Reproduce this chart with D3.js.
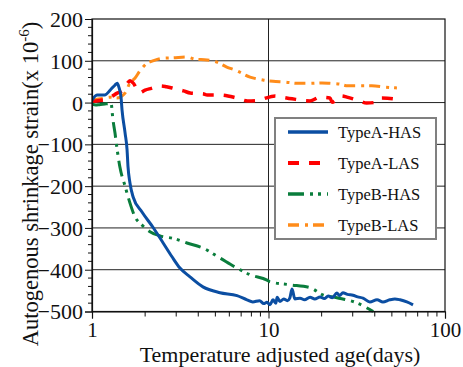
<!DOCTYPE html>
<html>
<head>
<meta charset="utf-8">
<script src="https://cdn.jsdelivr.net/npm/d3@7"></script>
<style>
html,body{margin:0;padding:0;background:#fff;}
svg{display:block;}
text{font-family:"Liberation Serif","Times New Roman",serif;fill:#111;}
</style>
</head>
<body>
<svg id="chart" width="463" height="367"></svg>
<script>
// ---- data ----
const seriesNames = ["TypeA-HAS", "TypeA-LAS", "TypeB-HAS", "TypeB-LAS"];

const typeAHASDays = [1.0, 1.07, 1.18, 1.27, 1.35, 1.39, 1.42, 1.46, 1.48, 1.54, 1.58, 1.60, 1.64, 1.71, 1.92, 2.22, 2.53, 2.84, 3.15, 3.59, 4.25, 5.31, 6.63, 7.55, 8.15, 8.9, 9.4, 9.8, 10.2, 10.6, 11.0, 11.2, 11.6, 12.2, 12.8, 13.2, 13.6, 14.1, 15.1, 16.0, 17.2, 18.3, 19.6, 20.7, 21.8, 23.0, 24.4, 25.3, 26.4, 28.0, 30.1, 32.0, 34.3, 37.5, 41.2, 44.5, 48.6, 52.0, 55.6, 60.8, 65.9];
const typeAHASVals = [6, 18, 18, 30, 42, 46, 37, 13, -18, -73, -113, -154, -192, -226, -262, -299, -336, -369, -396, -417, -441, -455, -462, -472, -477, -474, -481, -478, -484, -472, -480, -466, -476, -470, -474, -468, -446, -470, -468, -472, -466, -470, -465, -469, -463, -467, -456, -462, -455, -459, -461, -465, -468, -477, -472, -477, -472, -470, -472, -477, -484];

const typeALASDays = [1.0, 1.1, 1.2, 1.3, 1.38, 1.5, 1.58, 1.64, 1.7, 1.87, 2.0, 2.17, 2.45, 2.64, 2.95, 3.3, 3.6, 4.25, 4.5, 5.3, 6.6, 7.6, 8.6, 9.2, 10.9, 11.6, 13.6, 17.2, 19.6, 22.3, 22.9, 26.0, 27.8, 32.8, 36.0, 41.2, 43.9, 53.4, 57.1];
const typeALASVals = [3, 5, 8, 15, 22, 30, 45, 52, 48, 24, 30, 34, 40, 38, 33, 28, 23, 21, 18, 18, 11, 4, 5, 8, 16, 14, 9, 4, 13, 11, 1, 16, 13, 4, -1, 1, 11, 8, 1];

const typeBHASDays = [1.0, 1.05, 1.1, 1.15, 1.2, 1.25, 1.28, 1.315, 1.35, 1.386, 1.44, 1.54, 1.64, 1.75, 1.92, 2.13, 2.43, 2.95, 3.45, 4.25, 5.31, 6.63, 7.86, 9.81, 10.2, 13.2, 17.2, 20.3, 24.4, 31.5, 39.2];
const typeBHASVals = [-3, -6, -5, -4, -3, -2, 0, -42, -73, -110, -155, -200, -240, -273, -293, -309, -319, -326, -336, -348, -372, -396, -412, -425, -429, -436, -443, -460, -467, -479, -500];

const typeBLASDays = [1.0, 1.07, 1.15, 1.27, 1.38, 1.54, 1.64, 1.75, 1.87, 2.05, 2.19, 2.49, 2.87, 3.45, 3.83, 4.48, 5.1, 5.8, 6.45, 7.86, 9.3, 10.6, 12.4, 14.7, 17.2, 20.1, 22.3, 25.4, 28.1, 32.8, 38.5, 45.7, 53.4];
const typeBLASVals = [5, 8, 10, 13, 11, 23, 47, 58, 76, 94, 99, 106, 107, 109, 104, 102, 97, 85, 78, 61, 54, 51, 49, 46, 46, 47, 46, 44, 40, 40, 40, 37, 35];

const yTickValues = [200, 100, 0, -100, -200, -300, -400, -500];
const xTickValues = [1, 10, 100];

// ---- styles ----
const styles = [
  {color: "#0b4ea2", width: 3, dash: null},
  {color: "#ff0000", width: 3.5, dash: "11,10"},
  {color: "#0a7d3c", width: 3, dash: "16,6,3,5,3,6"},
  {color: "#ff8c1a", width: 3, dash: "11,6,3,5"}
];

const series = [
  {name: seriesNames[0], days: typeAHASDays, vals: typeAHASVals},
  {name: seriesNames[1], days: typeALASDays, vals: typeALASVals},
  {name: seriesNames[2], days: typeBHASDays, vals: typeBHASVals},
  {name: seriesNames[3], days: typeBLASDays, vals: typeBLASVals}
].map((s, i) => ({...s, style: styles[i], pts: s.days.map((d, j) => [d, s.vals[j]])}));

const svg = d3.select("#chart");
const L = 92, R = 445, T = 19, B = 311.5;
const x = d3.scaleLog().domain([1, 100]).range([L, R]);
const y = d3.scaleLinear().domain([-500, 200]).range([B, T]);

// gridlines
const grid = svg.append("g");
grid.selectAll("line.h").data([100, 0, -100, -200, -300, -400]).join("line")
  .attr("x1", L).attr("x2", R).attr("y1", d => y(d)).attr("y2", d => y(d))
  .attr("stroke", "#222").attr("stroke-width", 1);
grid.append("line").attr("x1", x(10)).attr("x2", x(10)).attr("y1", T).attr("y2", B)
  .attr("stroke", "#222").attr("stroke-width", 1);

// clip
svg.append("clipPath").attr("id", "clip").append("rect")
  .attr("x", L).attr("y", T - 2).attr("width", R - L).attr("height", B - T + 4);

const line = d3.line().x(d => x(d[0])).y(d => y(d[1])).curve(d3.curveMonotoneX);
const gS = svg.append("g").attr("clip-path", "url(#clip)");
// draw order: orange, red, green, blue
[3, 1, 2, 0].forEach(i => {
  const s = series[i];
  gS.append("path").datum(s.pts)
    .attr("fill", "none")
    .attr("stroke", s.style.color)
    .attr("stroke-width", s.style.width)
    .attr("stroke-dasharray", s.style.dash)
    .attr("stroke-linejoin", "round")
    .attr("d", line);
});

// frame
svg.append("rect").attr("x", L).attr("y", T).attr("width", R - L).attr("height", B - T)
  .attr("fill", "none").attr("stroke", "#111").attr("stroke-width", 1.2);

// y axis
const yAxis = d3.axisLeft(y).tickValues(yTickValues).tickSize(7).tickPadding(2).tickFormat(d3.format("d"));
const gy = svg.append("g").attr("transform", `translate(${L},0)`).call(yAxis);
gy.select(".domain").attr("stroke", "#111").attr("stroke-width", 1.2);
gy.selectAll(".tick line").attr("stroke", "#111");
gy.selectAll(".tick text").attr("font-size", 22).attr("font-family", "Liberation Serif").attr("fill", "#111").attr("dy", "0.34em");
const yMinor = d3.range(-500, 201, 20).filter(v => v % 100 !== 0);
svg.append("g").selectAll("line").data(yMinor).join("line")
  .attr("x1", L - 4).attr("x2", L).attr("y1", d => y(d)).attr("y2", d => y(d))
  .attr("stroke", "#111").attr("stroke-width", 1);

// x axis
const xAxis = d3.axisBottom(x).tickValues(xTickValues).tickSize(7).tickPadding(4).tickFormat(d3.format("d"));
const gx = svg.append("g").attr("transform", `translate(0,${B})`).call(xAxis);
gx.select(".domain").attr("stroke", "#111").attr("stroke-width", 1.2);
gx.selectAll(".tick line").attr("stroke", "#111");
gx.selectAll(".tick text").attr("font-size", 21).attr("font-family", "Liberation Serif").attr("fill", "#111");
const xMinor = [2,3,4,5,6,7,8,9,20,30,40,50,60,70,80,90];
svg.append("g").selectAll("line").data(xMinor).join("line")
  .attr("x1", d => x(d)).attr("x2", d => x(d)).attr("y1", B).attr("y2", B + 5)
  .attr("stroke", "#111").attr("stroke-width", 1);

// axis titles
svg.append("text").attr("x", 280).attr("y", 362).attr("text-anchor", "middle")
  .attr("font-size", 22).text("Temperature adjusted age(days)");
const yt = svg.append("text").attr("transform", "translate(38,184) rotate(-90)")
  .attr("text-anchor", "middle").attr("font-size", 22.5);
yt.append("tspan").text("Autogenous shrinkage strain(x 10");
yt.append("tspan").attr("font-size", 15).attr("dy", -9).text("-6");
yt.append("tspan").attr("dy", 9).text(")");

// legend
const lg = svg.append("g");
lg.append("rect").attr("x", 275).attr("y", 118).attr("width", 161).attr("height", 121)
  .attr("fill", "#fff").attr("stroke", "#808080").attr("stroke-width", 2);
const rowY = [132, 163, 194, 225];
series.forEach((s, i) => {
  lg.append("line").attr("x1", 288).attr("x2", 328).attr("y1", rowY[i]).attr("y2", rowY[i])
    .attr("stroke", s.style.color).attr("stroke-width", s.style.width + 0.5)
    .attr("stroke-dasharray", s.style.dash);
  lg.append("text").attr("x", 338).attr("y", rowY[i] + 6).attr("font-size", 16.5).text(s.name);
});
</script>
</body>
</html>
